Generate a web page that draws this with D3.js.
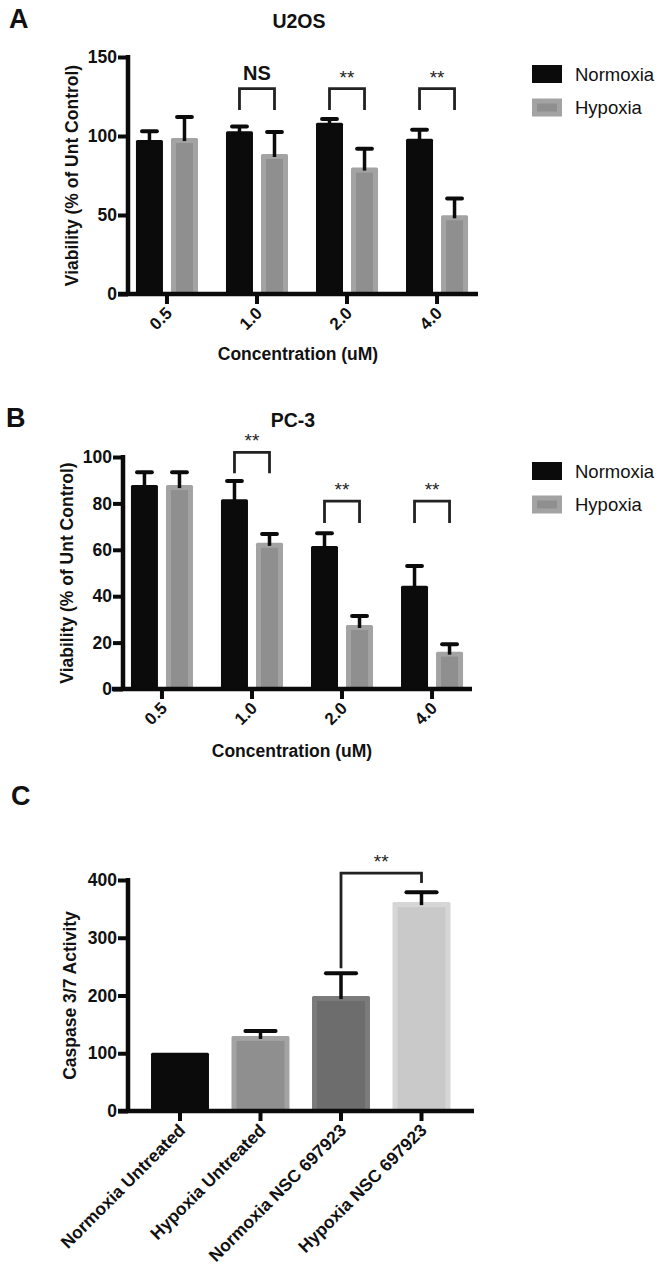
<!DOCTYPE html>
<html>
<head>
<meta charset="utf-8">
<script src="https://cdn.jsdelivr.net/npm/d3@7/dist/d3.min.js"></script>
<style>
  html, body { margin: 0; padding: 0; background: #fff; }
  svg { display: block; }
</style>
</head>
<body>
<svg id="chart" width="661" height="1272"></svg>
<script>
// ---------------- DATA ----------------
const seriesNames = ["Normoxia", "Hypoxia"];

// Panel A : U2OS
const concA = ["0.5", "1.0", "2.0", "4.0"];
const u2osNormoxia = [97.5, 103, 108.4, 98.3];
const u2osNormoxiaErr = [5.5, 3, 2.3, 5.7];
const u2osHypoxia = [98.7, 88.6, 80, 49.8];
const u2osHypoxiaErr = [13.3, 13.9, 12, 10.7];
const u2osTicks = [0, 50, 100, 150];
const u2osSigCats = ["1.0", "2.0", "4.0"];
const u2osSigLabels = ["NS", "**", "**"];
const u2osSigTop = [130, 130, 130];
const u2osSigBottom = [116.5, 116.5, 116.5];

// Panel B : PC-3
const concB = ["0.5", "1.0", "2.0", "4.0"];
const pc3Normoxia = [87.9, 81.8, 61.6, 44.5];
const pc3NormoxiaErr = [5.5, 7.9, 5.5, 8.5];
const pc3Hypoxia = [87.9, 63, 27.6, 16.1];
const pc3HypoxiaErr = [5.5, 3.8, 3.9, 3.2];
const pc3Ticks = [0, 20, 40, 60, 80, 100];
const pc3SigCats = ["1.0", "2.0", "4.0"];
const pc3SigLabels = ["**", "**", "**"];
const pc3SigTop = [102, 81, 81];
const pc3SigBottom = [93, 71.5, 71.5];

// Panel C : Caspase
const groupsC = ["Normoxia Untreated", "Hypoxia Untreated", "Normoxia NSC 697923", "Hypoxia NSC 697923"];
const caspase = [101, 130, 199, 361.7];
const caspaseErr = [0, 8.6, 39.6, 17.3];
const caspaseTicks = [0, 100, 200, 300, 400];
const caspaseSig = { from: "Normoxia NSC 697923", to: "Hypoxia NSC 697923", label: "**", leftBottom: 247, top: 412, rightBottom: 395 };

// ---------------- STYLE ----------------
const FONT = "'Liberation Sans', Arial, Helvetica, sans-serif";
const BLACK = "#0b0b0b";
const HYP_OUT = "#a3a3a3", HYP_IN = "#8f8f8f";
const C_OUT = [BLACK, "#a3a3a3", "#7b7b7b", "#d6d6d6"];
const C_IN  = [BLACK, "#8f8f8f", "#6d6d6d", "#c9c9c9"];
const BORDER = 5;
const LABEL_SIZE = 17.5;

const svg = d3.select("#chart");

function text(g, x, y, str, opts = {}) {
  return g.append("text")
    .attr("x", x).attr("y", y)
    .attr("font-family", FONT)
    .attr("font-size", opts.size || 16)
    .attr("font-weight", opts.weight || "bold")
    .attr("text-anchor", opts.anchor || "middle")
    .attr("fill", opts.fill || "#111")
    .attr("transform", opts.transform || null)
    .text(str);
}

function drawBar(g, x, w, yTop, yBase, outer, inner) {
  g.append("rect").attr("x", x).attr("y", yTop).attr("width", w).attr("height", Math.max(0, yBase - yTop))
    .attr("fill", outer).attr("rx", 1.5);
  if (inner !== outer) {
    g.append("rect").attr("x", x + BORDER).attr("y", yTop + BORDER)
      .attr("width", w - 2 * BORDER).attr("height", Math.max(0, yBase - yTop - BORDER))
      .attr("fill", inner);
  }
}

function drawErr(g, cx, capW, yVal, yErr) {
  if (Math.abs(yVal - yErr) < 0.5) return;
  g.append("line").attr("x1", cx).attr("x2", cx).attr("y1", yVal + 3).attr("y2", yErr)
    .attr("stroke", BLACK).attr("stroke-width", 3.5);
  g.append("line").attr("x1", cx - capW / 2).attr("x2", cx + capW / 2).attr("y1", yErr).attr("y2", yErr)
    .attr("stroke", BLACK).attr("stroke-width", 4).attr("stroke-linecap", "round");
}

function drawAxes(g, y, x, ticks, yAxisX, xLineStart, xLineEnd, rot) {
  const y0 = y(0);
  const ya = g.append("g").attr("transform", `translate(${yAxisX},0)`)
    .call(d3.axisLeft(y).tickValues(ticks).tickSize(10).tickSizeOuter(0).tickPadding(1));
  ya.select(".domain").remove();
  ya.selectAll(".tick line").attr("stroke", BLACK).attr("stroke-width", 4);
  ya.selectAll(".tick text").attr("font-family", FONT).attr("font-size", LABEL_SIZE)
    .attr("font-weight", "bold").attr("fill", "#111");
  g.append("line").attr("x1", yAxisX).attr("x2", yAxisX)
    .attr("y1", y(ticks[ticks.length - 1]) - 2).attr("y2", y0)
    .attr("stroke", BLACK).attr("stroke-width", 4.5);
  const xa = g.append("g").attr("transform", `translate(0,${y0})`)
    .call(d3.axisBottom(x).tickSize(10).tickSizeOuter(0));
  xa.select(".domain").remove();
  xa.selectAll(".tick line").attr("stroke", BLACK).attr("stroke-width", 4);
  xa.selectAll(".tick text")
    .attr("font-family", FONT).attr("font-size", rot.size)
    .attr("font-weight", "bold").attr("fill", "#111")
    .attr("x", 0).attr("y", 0).attr("dy", "0.35em")
    .attr("text-anchor", "end")
    .attr("transform", `translate(${rot.dx},${rot.dy}) rotate(-45)`);
  g.append("line").attr("x1", xLineStart).attr("x2", xLineEnd).attr("y1", y0).attr("y2", y0)
    .attr("stroke", BLACK).attr("stroke-width", 4.5);
}

function bracket(g, xl, xr, yTop, yBotL, yBotR) {
  g.append("path")
    .attr("d", `M${xl},${yBotL}V${yTop}H${xr}V${yBotR}`)
    .attr("fill", "none").attr("stroke", "#222").attr("stroke-width", 2.8);
}

function legend(g, x, y) {
  const rows = [{ name: seriesNames[0], o: BLACK, i: BLACK }, { name: seriesNames[1], o: HYP_OUT, i: HYP_IN }];
  rows.forEach((r, k) => {
    const cy = y + k * 33.5;
    g.append("rect").attr("x", x).attr("y", cy - 9).attr("width", 30).attr("height", 18).attr("fill", r.o);
    if (r.i !== r.o) g.append("rect").attr("x", x + 5).attr("y", cy - 4).attr("width", 20).attr("height", 8).attr("fill", r.i);
    text(g, x + 43, cy + 6.5, r.name, { size: 18.5, weight: "normal", anchor: "start", fill: "#111" });
  });
}

function groupedPanel(cfg) {
  const g = svg.append("g");
  const y = d3.scaleLinear().domain([0, cfg.ticks[cfg.ticks.length - 1]]).range([cfg.yBase, cfg.yTop]);
  const x0 = d3.scaleBand().domain(cfg.cats).range(cfg.xRange).paddingInner(0.311).paddingOuter(0.155);
  const x1 = d3.scaleBand().domain(seriesNames).range([0, x0.bandwidth()]).paddingInner(0.229);
  const series = [
    { name: seriesNames[0], vals: cfg.norm, errs: cfg.normErr, o: BLACK, i: BLACK },
    { name: seriesNames[1], vals: cfg.hyp, errs: cfg.hypErr, o: HYP_OUT, i: HYP_IN }
  ];
  series.forEach(s => {
    cfg.cats.forEach((c, k) => {
      drawBar(g, x0(c) + x1(s.name), x1.bandwidth(), y(s.vals[k]), y(0), s.o, s.i);
    });
  });
  series.forEach(s => {
    cfg.cats.forEach((c, k) => {
      const cx = x0(c) + x1(s.name) + x1.bandwidth() / 2;
      drawErr(g, cx, x1.bandwidth() * 0.55, y(s.vals[k]), y(s.vals[k] + s.errs[k]));
    });
  });
  drawAxes(g, y, x0, cfg.ticks, cfg.yAxisX, cfg.xLine[0], cfg.xLine[1], { dx: 2, dy: 16, size: 17 });
  cfg.sigCats.forEach((c, k) => {
    const xl = x0(c) + x1(seriesNames[0]) + x1.bandwidth() / 2;
    const xr = x0(c) + x1(seriesNames[1]) + x1.bandwidth() / 2;
    bracket(g, xl, xr, y(cfg.sigTop[k]), y(cfg.sigBottom[k]), y(cfg.sigBottom[k]));
    const lab = cfg.sigLabels[k];
    if (lab === "NS") text(g, (xl + xr) / 2, y(cfg.sigTop[k]) - 9, lab, { size: 20, weight: "bold" });
    else text(g, (xl + xr) / 2, y(cfg.sigTop[k]) - 5, lab, { size: 19, weight: "normal", fill: "#222" });
  });
  const midY = (cfg.yBase + cfg.yTop) / 2;
  text(g, cfg.yLabelX, midY, "Viability (% of Unt Control)", { size: LABEL_SIZE, transform: `rotate(-90,${cfg.yLabelX},${midY})` })
    .attr("dy", "0.35em");
  text(g, (cfg.xLine[0] + cfg.xLine[1]) / 2, cfg.xTitleY, "Concentration (uM)", { size: LABEL_SIZE });
  text(g, (cfg.xLine[0] + cfg.xLine[1]) / 2 + 1, cfg.titleY, cfg.title, { size: 19.5 });
  text(g, cfg.letterX, cfg.titleY, cfg.letter, { size: 27, anchor: "start" });
  legend(g, 532, cfg.legendY);
}

groupedPanel({
  cats: concA, norm: u2osNormoxia, normErr: u2osNormoxiaErr, hyp: u2osHypoxia, hypErr: u2osHypoxiaErr,
  ticks: u2osTicks, yBase: 294, yTop: 57, xRange: [122, 482], yAxisX: 128, xLine: [118, 478],
  sigCats: u2osSigCats, sigLabels: u2osSigLabels, sigTop: u2osSigTop, sigBottom: u2osSigBottom,
  yLabelX: 72, xTitleY: 360, titleY: 28, title: "U2OS", letter: "A", letterX: 9, legendY: 74
});

groupedPanel({
  cats: concB, norm: pc3Normoxia, normErr: pc3NormoxiaErr, hyp: pc3Hypoxia, hypErr: pc3HypoxiaErr,
  ticks: pc3Ticks, yBase: 689, yTop: 457, xRange: [117, 477], yAxisX: 123, xLine: [112, 472],
  sigCats: pc3SigCats, sigLabels: pc3SigLabels, sigTop: pc3SigTop, sigBottom: pc3SigBottom,
  yLabelX: 67, xTitleY: 757, titleY: 427, title: "PC-3", letter: "B", letterX: 6, legendY: 471
});

// ---------------- PANEL C ----------------
(function () {
  const g = svg.append("g");
  const y = d3.scaleLinear().domain([0, 400]).range([1111, 880]);
  const x = d3.scaleBand().domain(groupsC).range([139.75, 461.75]).paddingInner(0.28).paddingOuter(0.14);
  groupsC.forEach((c, k) => {
    drawBar(g, x(c), x.bandwidth(), y(caspase[k]), y(0), C_OUT[k], C_IN[k]);
  });
  groupsC.forEach((c, k) => {
    drawErr(g, x(c) + x.bandwidth() / 2, x.bandwidth() * 0.52, y(caspase[k]), y(caspase[k] + caspaseErr[k]));
  });
  drawAxes(g, y, x, caspaseTicks, 128, 118, 474, { dx: 2, dy: 16, size: 17.5 });
  const xl = x(caspaseSig.from) + x.bandwidth() / 2;
  const xr = x(caspaseSig.to) + x.bandwidth() / 2;
  bracket(g, xl, xr, y(caspaseSig.top), y(caspaseSig.leftBottom), y(caspaseSig.rightBottom));
  text(g, (xl + xr) / 2, y(caspaseSig.top) - 5, caspaseSig.label, { size: 19, weight: "normal", fill: "#222" });
  const midY = (1111 + 880) / 2;
  text(g, 70, midY, "Caspase 3/7 Activity", { size: LABEL_SIZE, transform: `rotate(-90,70,${midY})` }).attr("dy", "0.35em");
  text(g, 11, 805, "C", { size: 27, anchor: "start" });
})();
</script>
</body>
</html>
